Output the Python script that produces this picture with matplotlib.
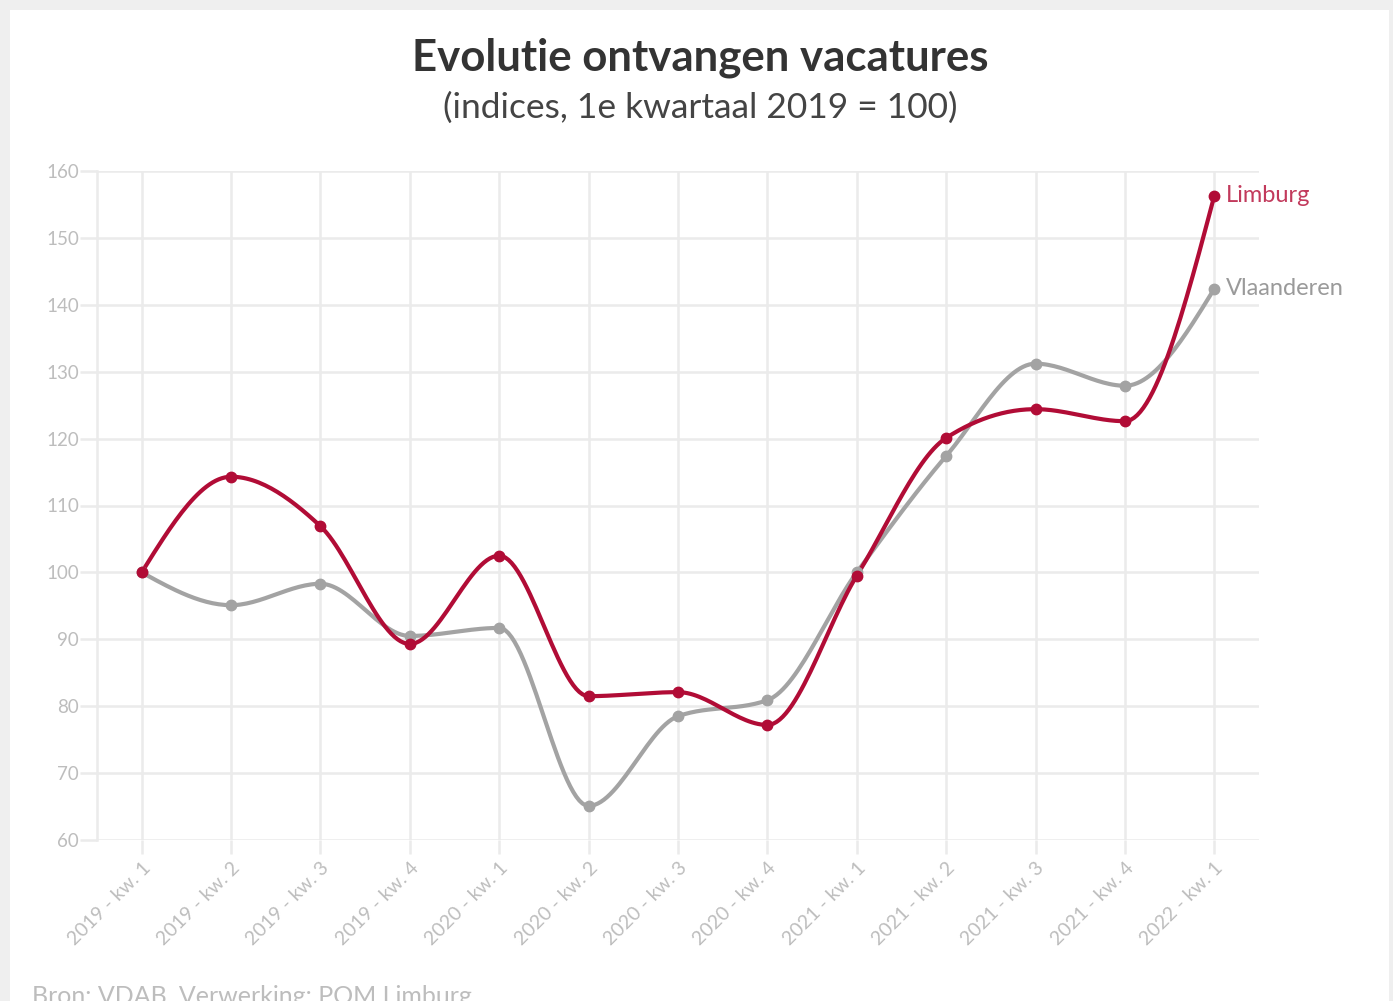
#!/usr/bin/env python3

import numpy as np
import matplotlib.pyplot as plt
from matplotlib.patches import Rectangle

# data (index, Q1 2019 = 100)
quarters = ["2019 - kw. 1", "2019 - kw. 2", "2019 - kw. 3", "2019 - kw. 4",
            "2020 - kw. 1", "2020 - kw. 2", "2020 - kw. 3", "2020 - kw. 4",
            "2021 - kw. 1", "2021 - kw. 2", "2021 - kw. 3", "2021 - kw. 4",
            "2022 - kw. 1"]
limburg = [100.0, 114.3, 106.9, 89.3, 102.5, 81.5, 82.1, 77.2,
           99.5, 120.1, 124.4, 122.6, 156.3]
vlaanderen = [100.0, 95.1, 98.3, 90.5, 91.7, 65.1, 78.5, 80.9,
              100.0, 117.4, 131.2, 127.9, 142.4]
yticks = [60, 70, 80, 90, 100, 110, 120, 130, 140, 150, 160]

red = '#b10c36'
red_label = '#c23a5c'
grey = '#a3a3a3'
grey_label = '#9a9a9a'
tick_col = '#bdbdbd'
grid_col = '#ebebeb'

plt.rcParams['font.family'] = ['Lato', 'DejaVu Sans']


def monotone(x, y, n=30):
    # d3 curveMonotoneX style smoothing between the data points
    x = np.asarray(x, float)
    y = np.asarray(y, float)
    h = np.diff(x)
    s = np.diff(y) / h
    t = np.zeros_like(y)
    for i in range(1, len(y) - 1):
        p = (s[i - 1] * h[i] + s[i] * h[i - 1]) / (h[i - 1] + h[i])
        t[i] = (np.sign(s[i - 1]) + np.sign(s[i])) * min(abs(s[i - 1]), abs(s[i]), 0.5 * abs(p))
    t[0] = (3 * s[0] - t[1]) / 2
    t[-1] = (3 * s[-1] - t[-2]) / 2
    xs, ys = [], []
    u = np.linspace(0, 1, n)
    for i in range(len(x) - 1):
        dx = h[i] / 3
        p0 = np.array([x[i], y[i]])
        p1 = np.array([x[i] + dx, y[i] + dx * t[i]])
        p2 = np.array([x[i + 1] - dx, y[i + 1] - dx * t[i + 1]])
        p3 = np.array([x[i + 1], y[i + 1]])
        b = ((1 - u) ** 3)[:, None] * p0 + (3 * (1 - u) ** 2 * u)[:, None] * p1 \
            + (3 * (1 - u) * u ** 2)[:, None] * p2 + (u ** 3)[:, None] * p3
        xs.append(b[:, 0])
        ys.append(b[:, 1])
    return np.concatenate(xs), np.concatenate(ys)


fig = plt.figure(figsize=(13.93, 10.01), dpi=100)
fig.patch.set_facecolor('#efefef')
fig.patches.append(Rectangle((10 / 1393, 0), 1379 / 1393, 991 / 1001,
                             transform=fig.transFigure, facecolor='white',
                             edgecolor='none', zorder=-10))

ax = fig.add_axes([97 / 1393, 1 - 840 / 1001, 1162 / 1393, 669 / 1001])
ax.set_facecolor('none')

x = np.arange(len(quarters))
for vals, col in [(vlaanderen, grey), (limburg, red)]:
    sx, sy = monotone(x, vals)
    ax.plot(sx, sy, color=col, linewidth=3.0, solid_capstyle='round', zorder=3)
    ax.plot(x, vals, 'o', color=col, markersize=7.5, zorder=4)

ax.text(x[-1] + 0.13, limburg[-1], "Limburg", color=red_label, fontsize=17,
        va='center', ha='left', clip_on=False)
ax.text(x[-1] + 0.13, vlaanderen[-1], "Vlaanderen", color=grey_label, fontsize=17,
        va='center', ha='left', clip_on=False)

ax.set_xlim(-0.5, 12.5)
ax.set_ylim(60, 160)
ax.set_xticks(x)
ax.set_xticklabels(quarters, rotation=45, ha='right', rotation_mode='anchor')
ax.set_yticks(yticks)
ax.grid(True, color=grid_col, linewidth=1.8, zorder=0)
ax.set_axisbelow(True)
for side in ['top', 'right', 'bottom']:
    ax.spines[side].set_visible(False)
ax.spines['left'].set_color(grid_col)
ax.spines['left'].set_linewidth(1.8)
ax.tick_params(axis='y', length=12, width=1.8, color=grid_col, labelcolor=tick_col,
               labelsize=13.5, pad=1)
ax.tick_params(axis='x', length=10, width=1.8, color=grid_col, labelcolor=tick_col,
               labelsize=14, pad=4)

fig.text(0.503, 1 - 58 / 1001, "Evolutie ontvangen vacatures", ha='center', va='center',
         fontsize=31.5, fontweight='bold', color='#333333')
fig.text(0.503, 1 - 108 / 1001, "(indices, 1e kwartaal 2019 = 100)", ha='center', va='center',
         fontsize=25.5, color='#444444')
fig.text(32 / 1393, 1 - 996 / 1001, "Bron: VDAB, Verwerking: POM Limburg", ha='left',
         va='center', fontsize=18, color=tick_col)

plt.savefig('out.png', dpi=100)
plt.close()
